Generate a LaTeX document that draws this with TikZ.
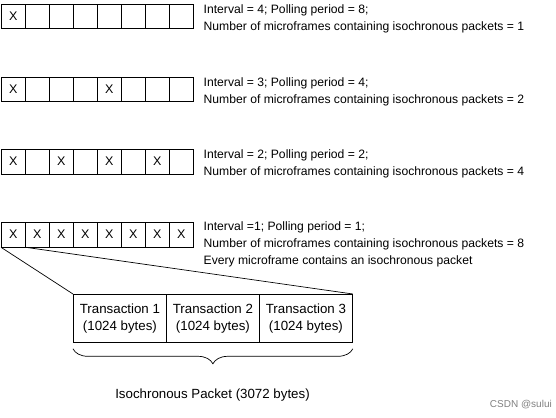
\documentclass[tikz,border=0pt]{standalone}
\usepackage{fontspec}
\setmainfont{Liberation Sans}
\usetikzlibrary{decorations.pathreplacing}
\begin{document}
\begin{tikzpicture}[x=1pt,y=-1pt,
  cellbox/.style={draw,line width=0.8pt,minimum width=24pt,minimum height=24.5pt,inner sep=0pt,font=\fontsize{12.5}{14}\selectfont,anchor=north west},
  txbox/.style={draw,line width=0.8pt,minimum width=93pt,minimum height=48pt,inner sep=0pt,align=center,font=\fontsize{13.3}{17}\selectfont,anchor=north west},
  lbl/.style={anchor=north west,inner sep=0pt,align=left,font=\fontsize{12.15}{17}\selectfont},
  conn/.style={line width=0.7pt}]
\useasboundingbox (0,0) rectangle (556,417);
% row 1
\foreach \i/\t in {1/X,2/,3/,4/,5/,6/,7/,8/}
  \node[cellbox] (a\i) at ({1+24*(\i-1)},4) {\t};
\node[lbl] (la) at (203.5,4.5) {Interval = 4; Polling period = 8;\\Number of microframes containing isochronous packets = 1};
% row 2
\foreach \i/\t in {1/X,2/,3/,4/,5/X,6/,7/,8/}
  \node[cellbox] (b\i) at ({1+24*(\i-1)},77) {\t};
\node[lbl] (lb) at (203.5,77.5) {Interval = 3; Polling period = 4;\\Number of microframes containing isochronous packets = 2};
% row 3
\foreach \i/\t in {1/X,2/,3/X,4/,5/X,6/,7/X,8/}
  \node[cellbox] (c\i) at ({1+24*(\i-1)},149) {\t};
\node[lbl] (lc) at (203.5,149.5) {Interval = 2; Polling period = 2;\\Number of microframes containing isochronous packets = 4};
% row 4
\foreach \i in {1,...,8}
  \node[cellbox] (d\i) at ({1+24*(\i-1)},222) {X};
\node[lbl] (ld) at (203.5,221) {Interval =1; Polling period = 1;\\Number of microframes containing isochronous packets = 8\\Every microframe contains an isochronous packet};
% transactions
\node[txbox] (t1) at (73,294) {Transaction 1\\(1024 bytes)};
\node[txbox] (t2) at (166,294) {Transaction 2\\(1024 bytes)};
\node[txbox] (t3) at (259,294) {Transaction 3\\(1024 bytes)};
\draw[conn] (d1.south west) -- (t1.north west);
\draw[conn] (d1.south east) -- (t3.north east);
% brace
\draw[line width=0.7pt,decorate,decoration={brace,mirror,amplitude=15pt,aspect=0.5}]
  ([yshift=-6pt]t1.south west) -- ([yshift=-6pt]t3.south east);
\node[font=\fontsize{13.3}{15}\selectfont] (pk) at (212.5,395) {Isochronous Packet (3072 bytes)};
\node[anchor=east,text=gray,font=\fontsize{10}{12}\selectfont,inner sep=0pt] (wm) at (552,405) {CSDN @sului};
\end{tikzpicture}
\end{document}
